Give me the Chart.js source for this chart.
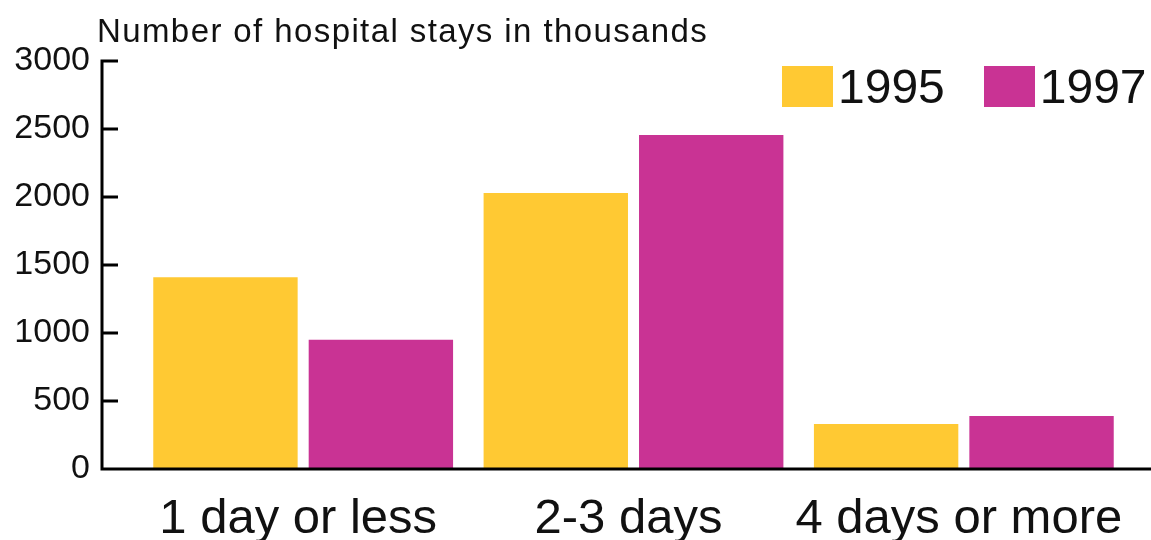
<!DOCTYPE html>
<html>
<head>
<meta charset="utf-8">
<script src="https://cdn.jsdelivr.net/npm/chart.js@4"></script>
<style>
    body { margin: 0; background: #fff; }
    #wrap { position: relative; width: 1151px; height: 540px; font-family: 'Liberation Sans', Arial, sans-serif; }
    #title { position: absolute; left: 97px; top: 14px; font-size: 33px; line-height: 33px; letter-spacing: 1.4px; color: #111; }
    #legend { position: absolute; left: 782px; top: 66px; display: flex; }
    .item { display: flex; align-items: center; height: 41px; margin-right: 39px; }
    .box { width: 51px; height: 41px; margin-right: 5px; }
    .label { font-size: 48px; line-height: 41px; color: #111; }
</style>
</head>
<body>
<div id="wrap">
    <canvas id="chart" width="1151" height="540"></canvas>
    <div id="title">Number of hospital stays in thousands</div>
    <div id="legend"></div>
</div>
<script>
const categories = ['1 day or less', '2-3 days', '4 days or more'];
const seriesNames = ['1995', '1997'];
const stays1995 = [1410, 2030, 330];
const stays1997 = [950, 2455, 390];
const yTicks = [0, 500, 1000, 1500, 2000, 2500, 3000];

const colors = ['#FFC933', '#C93394'];

// black axis frame with ticks pointing inward, offset left of the bars
const axisFrame = {
    id: 'axisFrame',
    afterDraw(chart) {
        const { ctx } = chart;
        const y = chart.scales.y;
        const x0 = 102;
        const yBottom = y.getPixelForValue(0);
        const yTop = y.getPixelForValue(3000);
        ctx.save();
        ctx.strokeStyle = '#000';
        ctx.lineWidth = 3;
        ctx.beginPath();
        ctx.moveTo(x0, yTop - 1.5);
        ctx.lineTo(x0, yBottom);
        ctx.lineTo(chart.width, yBottom);
        yTicks.forEach(v => {
            const py = y.getPixelForValue(v);
            if (v > 0) {
                ctx.moveTo(x0, py);
                ctx.lineTo(118, py);
            }
        });
        ctx.stroke();
        ctx.restore();
    }
};

const chart = new Chart(document.getElementById('chart').getContext('2d'), {
    type: 'bar',
    data: {
        labels: categories,
        datasets: [
            { label: seriesNames[0], data: stays1995, backgroundColor: colors[0] },
            { label: seriesNames[1], data: stays1997, backgroundColor: colors[1] },
        ],
    },
    options: {
        responsive: false,
        animation: false,
        devicePixelRatio: 1,
        layout: { padding: { left: 0, right: 22, top: 61, bottom: 0 } },
        categoryPercentage: 0.941,
        barPercentage: 0.929,
        plugins: {
            legend: { display: false },
            tooltip: { enabled: false },
        },
        scales: {
            x: {
                grid: { display: false, drawTicks: false },
                border: { display: false },
                ticks: {
                    color: '#111',
                    padding: 26,
                    labelOffset: -5,
                    maxRotation: 0,
                    autoSkip: false,
                    font: { family: 'Liberation Sans', size: 49, lineHeight: 1 },
                },
                afterFit: (scale) => {
                    scale.height = 71;
                    scale.paddingLeft = 0;
                    scale.paddingRight = 0;
                },
            },
            y: {
                min: 0,
                max: 3000,
                grid: { display: false, drawTicks: false },
                border: { display: false },
                ticks: {
                    stepSize: 500,
                    color: '#111',
                    padding: 48,
                    font: { family: 'Liberation Sans', size: 34, lineHeight: 1 },
                    callback: (v) => String(v),
                },
                afterFit: (scale) => {
                    scale.width = 138;
                    scale.paddingTop = 0;
                    scale.paddingBottom = 0;
                },
            },
        },
    },
    plugins: [axisFrame],
});

// legend built from the chart's datasets
const legendEl = document.getElementById('legend');
chart.data.datasets.forEach(ds => {
    const item = document.createElement('div');
    item.className = 'item';
    item.innerHTML = '<div class="box" style="background:' + ds.backgroundColor + '"></div><span class="label">' + ds.label + '</span>';
    legendEl.appendChild(item);
});
</script>
</body>
</html>
